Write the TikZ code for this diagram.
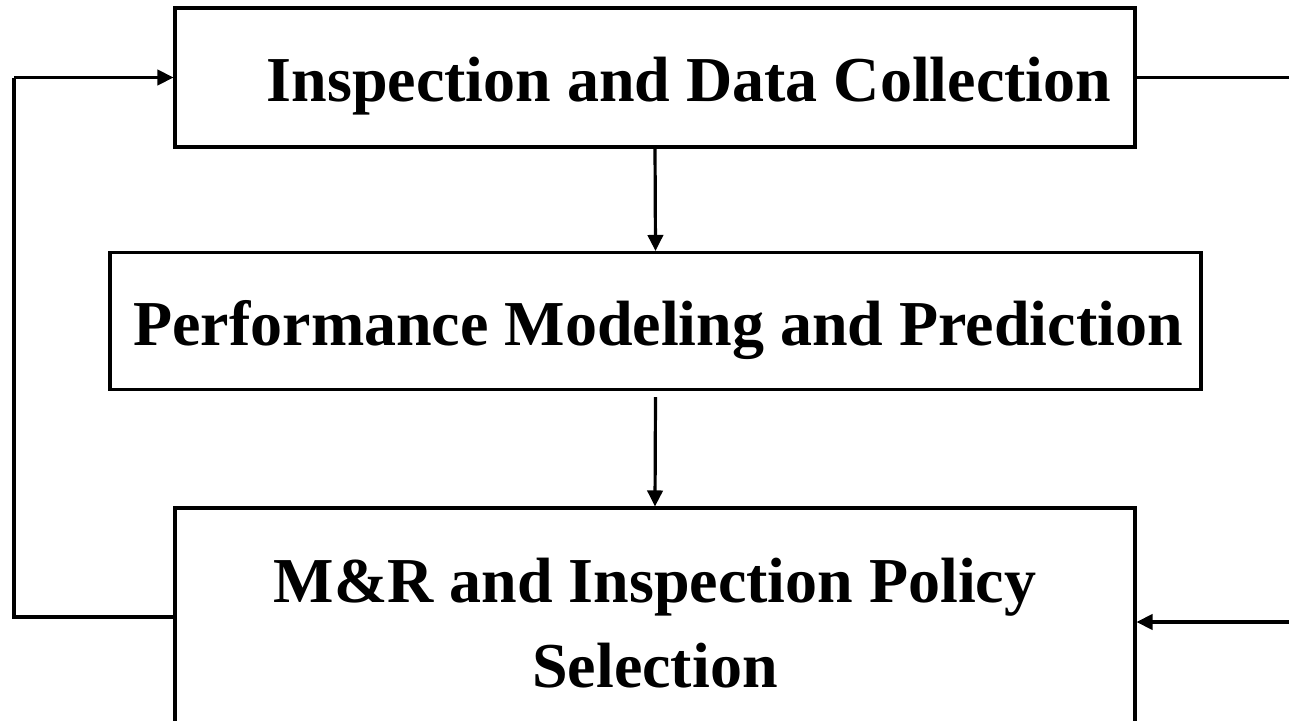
\documentclass[tikz,border=0pt]{standalone}
\usepackage{fontspec}
\setmainfont{Liberation Serif}
\usetikzlibrary{arrows.meta}
\begin{document}
\begin{tikzpicture}[x=0.75pt,y=-0.75pt,
  stage/.style={draw,line width=2.3pt,rectangle,inner sep=0pt},
  label/.style={font=\fontsize{48}{64}\selectfont\bfseries,anchor=base,inner sep=0pt},
  link/.style={line width=2.4pt},
  flow/.style={link,-{Triangle[length=12pt,width=11.5pt]}}]
  \useasboundingbox (0,0) rectangle (1289,721);
  % process stages
  \node[stage,minimum width=720pt,minimum height=104.25pt] (inspect) at (655,77.5) {};
  \node[stage,minimum width=818.25pt,minimum height=102.75pt] (model) at (655.5,321) {};
  \node[stage,minimum width=720pt,minimum height=180pt] (policy) at (655,628) {};
  % stage titles
  \node[label] (tinspect) at (689,101) {Inspection and Data Collection};
  \node[label] (tmodel) at (658,345) {Performance Modeling and Prediction};
  \node[label] (tpolicy1) at (655,602) {M\&R and Inspection Policy};
  \node[label] (tpolicy2) at (655,687) {Selection};
  % downward flow
  \draw[flow] ([yshift=2.5pt]inspect.south) -- (model.north);
  \draw[flow] ([yshift=-4.5pt]model.south) -- (policy.north);
  % feedback loop on the left
  \coordinate (loopbot) at (14,617);
  \coordinate (looptop) at (14,77.5);
  \draw[link] (policy.west |- loopbot) -- (loopbot) -- (looptop);
  \draw[flow] (looptop) -- (inspect.west);
  % links running off the right side
  \coordinate (outtop) at (1295,77.5);
  \coordinate (inbot) at (1295,622);
  \draw[link] (inspect.east) -- (outtop);
  \draw[flow] (inbot) -- (policy.east |- inbot);
\end{tikzpicture}
\end{document}
